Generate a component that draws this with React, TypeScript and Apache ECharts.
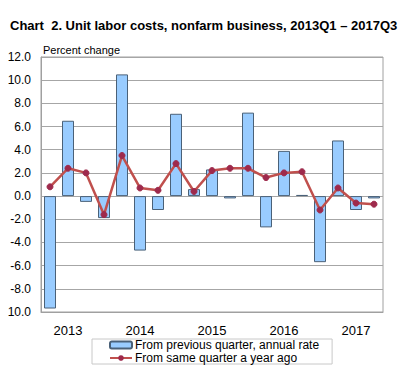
import React, { useEffect, useRef } from "react";
import * as echarts from "echarts";

const quarters: string[] = [
  "2013Q1", "2013Q2", "2013Q3", "2013Q4",
  "2014Q1", "2014Q2", "2014Q3", "2014Q4",
  "2015Q1", "2015Q2", "2015Q3", "2015Q4",
  "2016Q1", "2016Q2", "2016Q3", "2016Q4",
  "2017Q1", "2017Q2", "2017Q3",
];
const fromPrevQuarter: number[] = [
  -9.7, 6.5, -0.5, -1.9,
  10.5, -4.7, -1.2, 7.1,
  0.6, 2.3, -0.2, 7.2,
  -2.7, 3.9, 0.1, -5.7,
  4.8, -1.2, -0.2,
];
const fromYearAgo: number[] = [
  0.8, 2.4, 2.0, -1.6,
  3.5, 0.7, 0.5, 2.8,
  0.4, 2.2, 2.4, 2.4,
  1.6, 2.0, 2.1, -1.2,
  0.7, -0.6, -0.7,
];
const seriesNames: string[] = [
  "From previous quarter, annual rate",
  "From same quarter a year ago",
];
const titleText = "Chart  2. Unit labor costs, nonfarm business, 2013Q1 \u2013 2017Q3";
const yAxisTitle = "Percent change";

export default function App() {
  const ref = useRef<HTMLDivElement>(null);
  useEffect(() => {
    if (!ref.current) return;
    const chart = echarts.init(ref.current, undefined, { renderer: "svg" });
    chart.setOption({
      animation: false,
      backgroundColor: "#ffffff",
      textStyle: { fontFamily: "Liberation Sans, Arial, sans-serif" },
      title: {
        text: titleText,
        left: 5,
        top: 14,
        textStyle: { fontSize: 13, fontWeight: "bold", color: "#000", fontFamily: "Liberation Sans, Arial, sans-serif" },
      },
      graphic: [
        {
          type: "text",
          left: 43,
          top: 44,
          style: { text: yAxisTitle, fontSize: 11, fill: "#000", fontFamily: "Liberation Sans, Arial, sans-serif" },
        },
      ],
      grid: {
        left: 41,
        right: 31,
        top: 57,
        bottom: 78,
        show: true,
        borderColor: "#a0a0a0",
        borderWidth: 1,
        backgroundColor: "transparent",
      },
      legend: {
        orient: "vertical",
        left: 92,
        top: 339,
        padding: [0, 13, 0, 17],
        itemGap: 1,
        itemWidth: 22,
        itemHeight: 7,
        borderColor: "#c8c8c8",
        borderWidth: 1,
        textStyle: { fontSize: 12, color: "#000", padding: [0, 0, 0, -2] },
        data: seriesNames,
      },
      xAxis: {
        type: "category",
        data: quarters,
        axisTick: { show: false },
        axisLine: { show: true, onZero: false, lineStyle: { color: "#a0a0a0" } },
        axisLabel: {
          interval: 0,
          fontSize: 13,
          color: "#000",
          margin: 12,
          formatter: (v: string) => (v.endsWith("Q2") ? v.slice(0, 4) : ""),
        },
      },
      yAxis: {
        type: "value",
        min: -10,
        max: 12,
        interval: 2,
        axisLine: { show: true, lineStyle: { color: "#a0a0a0" } },
        axisTick: { show: false },
        splitLine: { lineStyle: { color: "#a6a6a6", width: 1 } },
        axisLabel: {
          fontSize: 12,
          color: "#000",
          margin: 10,
          formatter: (v: number) => v.toFixed(1),
        },
      },
      series: [
        {
          name: seriesNames[0],
          type: "bar",
          data: fromPrevQuarter,
          barWidth: 12,
          itemStyle: { color: "#99ccff", borderColor: "#4a6178", borderWidth: 1 },
        },
        {
          name: seriesNames[1],
          type: "line",
          data: fromYearAgo,
          symbol: "circle",
          symbolSize: 6,
          lineStyle: { color: "#c0504d", width: 2.5 },
          itemStyle: { color: "#9e2a4c", borderColor: "#9e2a4c" },
          z: 3,
        },
      ],
    });
    return () => chart.dispose();
  }, []);
  return <div ref={ref} style={{ width: 414, height: 390, margin: -8 }} />;
}
